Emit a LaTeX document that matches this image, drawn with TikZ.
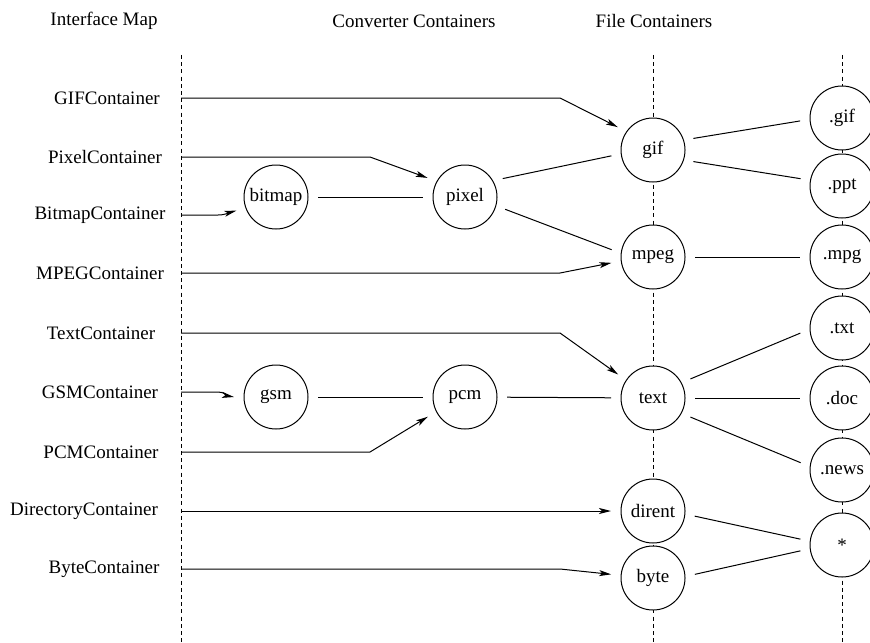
\documentclass[tikz,border=0pt]{standalone}
\usepackage{fontspec}
\setmainfont{Liberation Serif}
\usetikzlibrary{arrows.meta}

\begin{document}
\begin{tikzpicture}[x=0.5pt, y=-0.5pt,
  every node/.style={font=\fontsize{9.5}{11}\selectfont},
  conv/.style={circle, draw, fill=white, line width=0.5pt, minimum size=32pt, inner sep=0pt, outer sep=5pt},
  feed/.style={line width=0.5pt, -{Stealth[length=6pt,width=3pt,inset=1.5pt]}},
  link/.style={line width=0.5pt},
  axis/.style={line width=0.5pt, dash pattern=on 2pt off 1.6pt}]
\useasboundingbox (0,0) rectangle (870,642);
\node (hmap) at (104,21) {Interface Map};
\node (hconv) at (414,21) {Converter Containers};
\node (hfile) at (654,21) {File Containers};
\coordinate (imap) at (181,55);
\coordinate (fmap) at (653,55);
\coordinate (xmap) at (842,55);
\coordinate (farbend) at (560,0);
\coordinate (nearbend) at (370,0);
\coordinate (shortbend) at (218,0);
\draw[axis] (imap) -- ++(0,587);
\draw[axis] (fmap) -- ++(0,587);
\draw[axis] (xmap) -- ++(0,587);

\node[conv] (bitmap) at (276,197) {bitmap};
\node[conv] (pixel) at (465,197) {pixel};
\node[conv] (gsm) at (276,397) {gsm};
\node[conv] (pcm) at (465,397) {pcm};
\node[conv] (gif) at (653,150) {gif};
\node[conv] (mpeg) at (653,257) {mpeg};
\node[conv] (text) at (653,398) {text};
\node[conv] (dirent) at (653,511) {dirent};
\node[conv] (byte) at (653,578) {byte};
\node[conv] (xgif) at (842,118) {.gif};
\node[conv] (xppt) at (842,186) {.ppt};
\node[conv] (xmpg) at (842,257) {.mpg};
\node[conv] (xtxt) at (842,328) {.txt};
\node[conv] (xdoc) at (842,398) {.doc};
\node[conv] (xnews) at (842,470) {.news};
\node[conv] (xany) at (842,545) {*};

\node (gifc) at (107,98) {GIFContainer};
\node (pixelc) at (105,157) {PixelContainer};
\node (bitmapc) at (100,215) {BitmapContainer};
\node (mpegc) at (100,273) {MPEGContainer};
\node (textc) at (101,333) {TextContainer};
\node (gsmc) at (100,392) {GSMContainer};
\node (pcmc) at (101,452) {PCMContainer};
\node (dirc) at (84,511) {DirectoryContainer};
\node (bytec) at (104,569) {ByteContainer};

\draw[feed] (gifc -| imap) -- (gifc -| farbend) -- (gif.147);
\draw[feed] (pixelc -| imap) -- (pixelc -| nearbend) -- (pixel.153);
\draw[feed] (bitmapc -| imap) -- (bitmapc -| shortbend) to[out=0,in=195] (bitmap.199);
\draw[feed] (mpegc -| imap) -- (mpegc -| farbend) -- (mpeg.188);
\draw[feed] (textc -| imap) -- (textc -| farbend) -- (text.146);
\draw[feed] (gsmc -| imap) -- (gsmc -| shortbend) to[out=0,in=170] (gsm.180);
\draw[feed] (pcmc -| imap) -- (pcmc -| nearbend) -- (pcm.208);
\draw[feed] (dirc -| imap) -- (dirent);
\draw[feed] (bytec -| imap) -- (bytec -| farbend) -- (byte.175);

\draw[link] (bitmap) -- (pixel);
\draw[link] (pixel.26) -- (gif.188);
\draw[link] (pixel.343) -- (mpeg.170);
\draw[link] (gsm) -- (pcm);
\draw[link] (pcm) -- (text);
\draw[link] (gif.16) -- (xgif.184);
\draw[link] (gif.344) -- (xppt.170);
\draw[link] (mpeg) -- (xmpg);
\draw[link] (text.27) -- (xtxt.187);
\draw[link] (text) -- (xdoc);
\draw[link] (text.333) -- (xnews.170);
\draw[link] (dirent.353) -- (xany.172);
\draw[link] (byte.5) -- (xany.188);
\end{tikzpicture}
\end{document}
